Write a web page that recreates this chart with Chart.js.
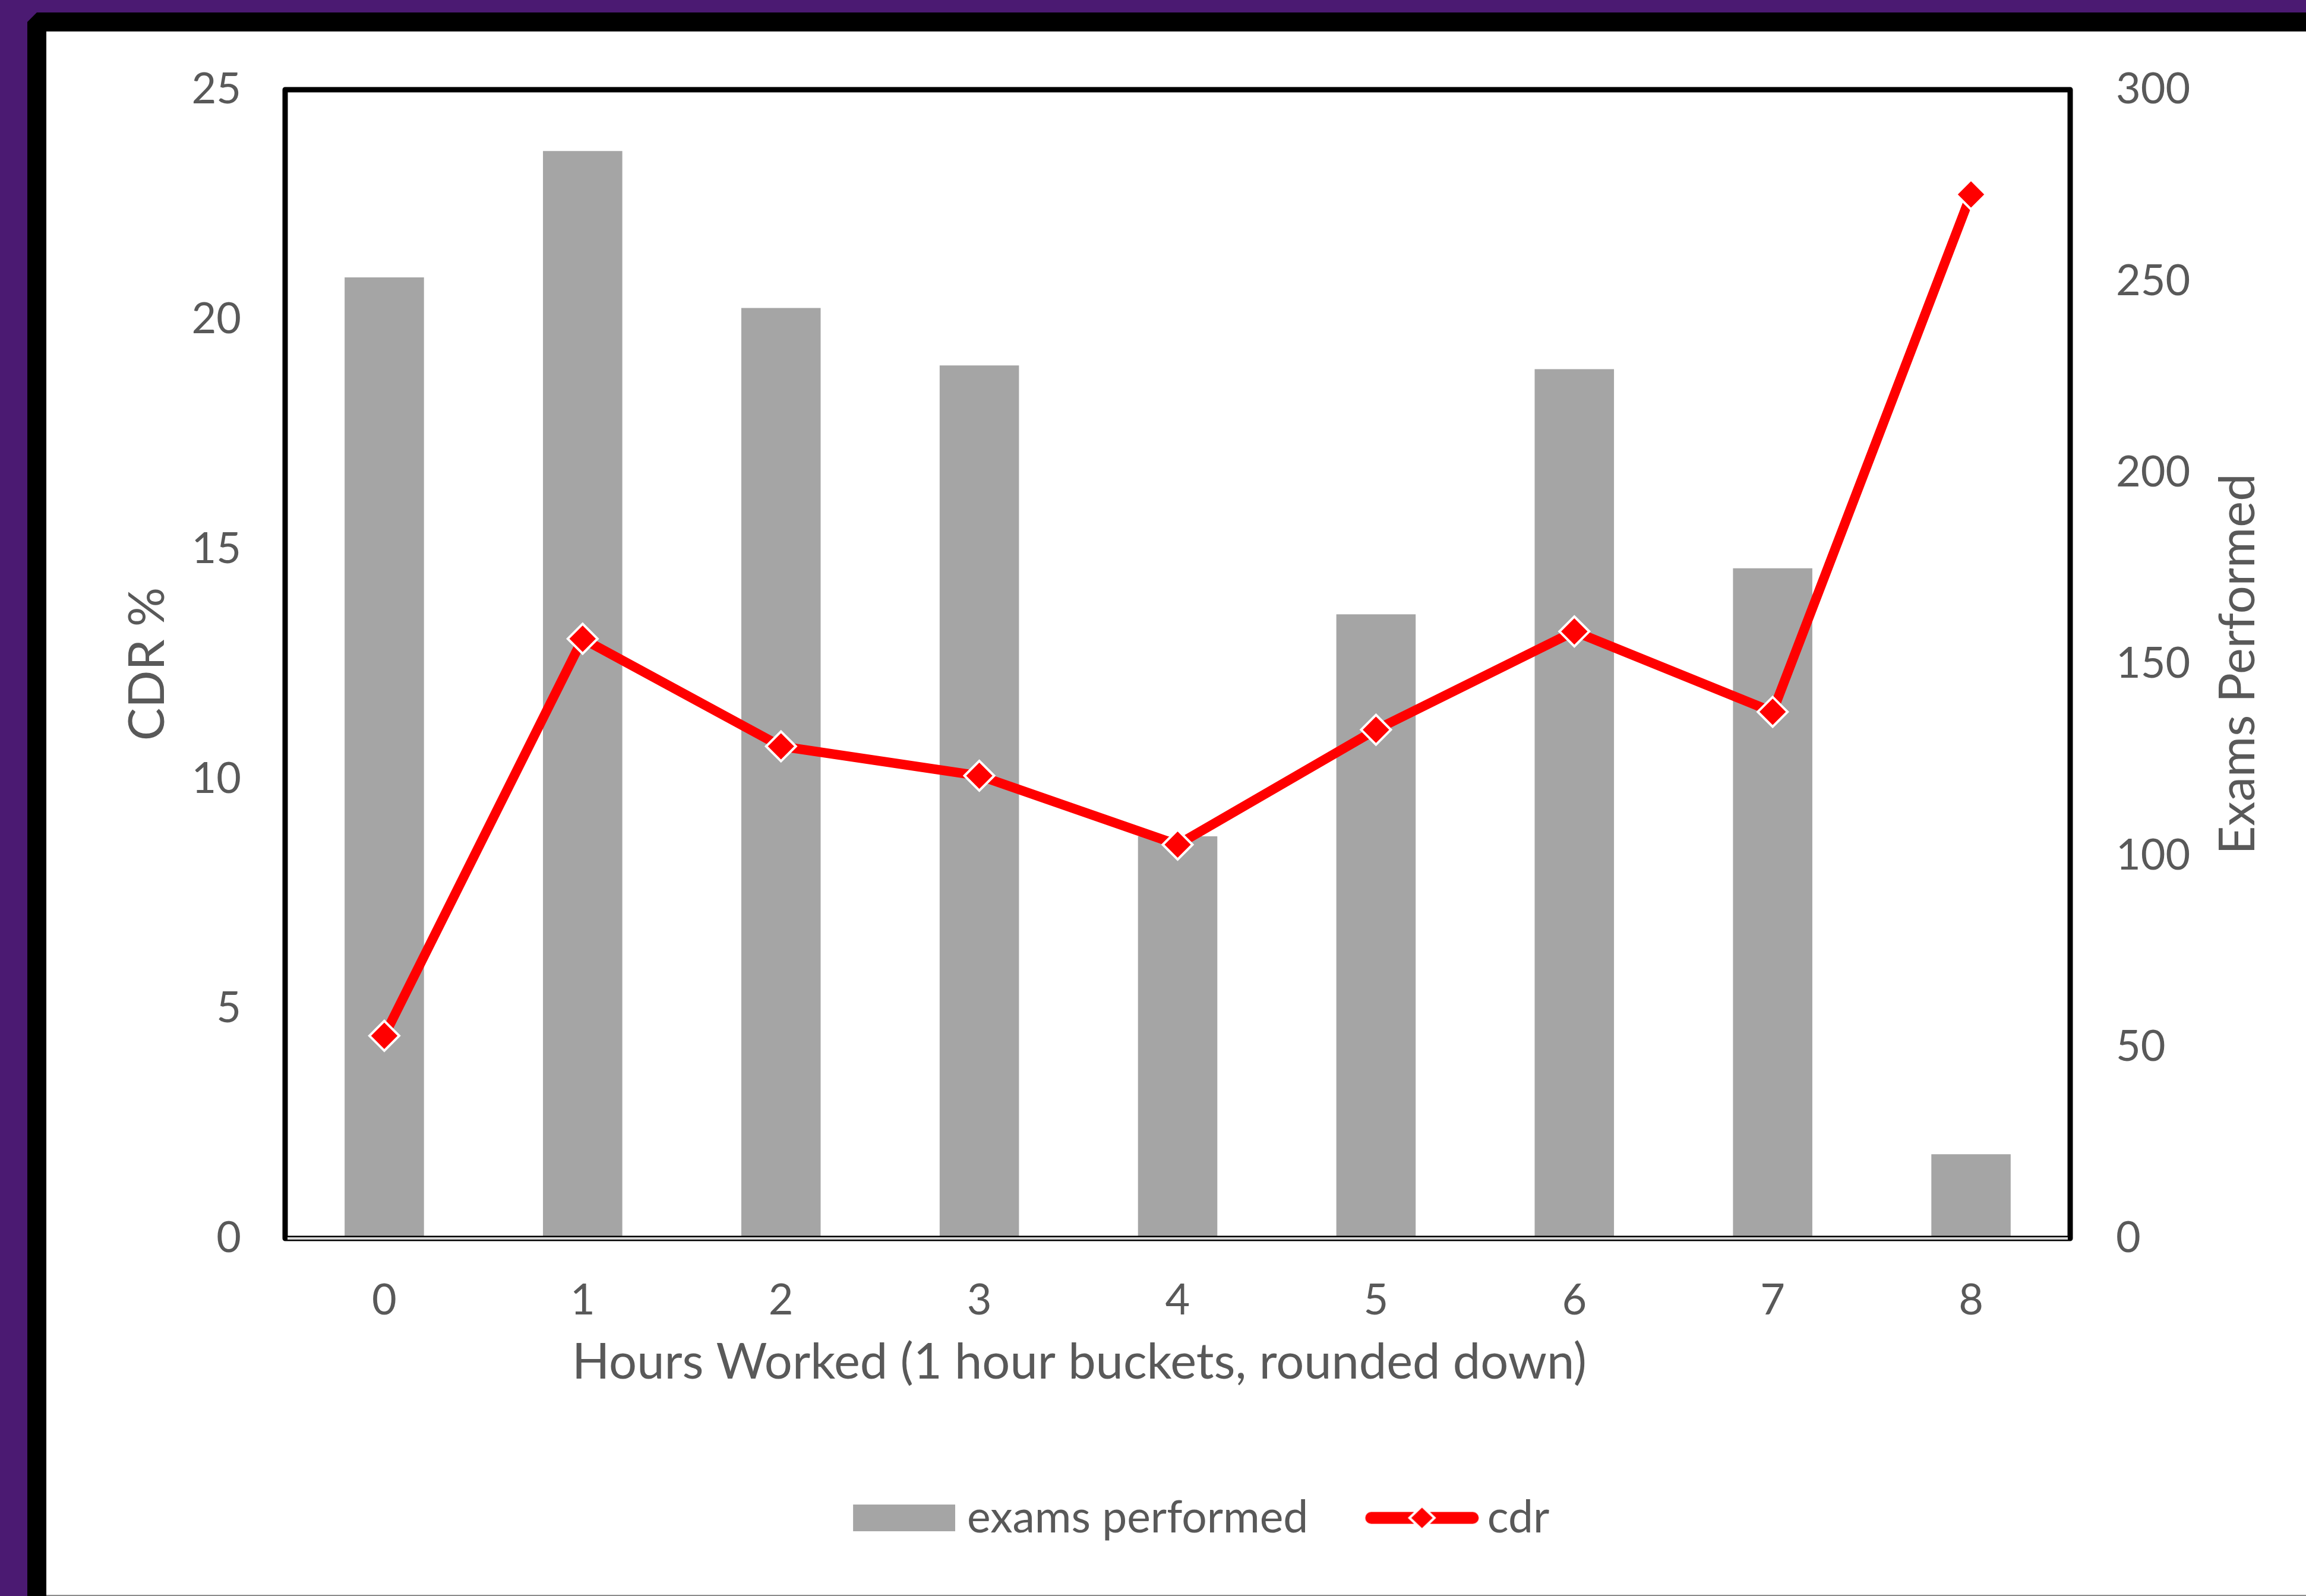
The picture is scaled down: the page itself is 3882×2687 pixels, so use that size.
<!DOCTYPE html>
<html><head><meta charset="utf-8">
<script src="https://cdn.jsdelivr.net/npm/chart.js@4.4.1/dist/chart.umd.min.js"></script>
<style>
html,body{margin:0;padding:0;width:3882px;height:2687px;overflow:hidden;background:#4B1A72;}
#frame{position:absolute;left:46px;top:21px;width:3836px;height:2666px;background:#000;clip-path:polygon(16px 0,100% 0,100% 100%,0 100%,0 16px);}
#bottomline{position:absolute;left:78px;top:2685px;width:3804px;height:2px;background:#8c8c8c;}
#c{position:absolute;left:78px;top:53px;background:#fff;}
</style></head>
<body><div id="frame"></div><div id="bottomline"></div>
<canvas id="c" width="3804" height="2632" style="width:3804px;height:2632px"></canvas>
<script>
const categories = ['0', '1', '2', '3', '4', '5', '6', '7', '8'];
const examsPerformed = [251, 284, 243, 228, 105, 163, 227, 175, 22];
const cdrPercent = [4.41, 13.05, 10.71, 10.07, 8.57, 11.07, 13.21, 11.46, 22.72];
const leftAxisTicks = [0, 5, 10, 15, 20, 25];
const rightAxisTicks = [0, 50, 100, 150, 200, 250, 300];
const seriesNames = ['exams performed', 'cdr'];
const axisTitles = { x: 'Hours Worked (1 hour buckets, rounded down)', left: 'CDR %', right: 'Exams Performed' };

const FONT = 'Lato, "Open Sans", sans-serif';
const TEXT = '#595959';
const BAR = '#A5A5A5';
const RED = '#FF0000';

// legend glyphs
function barGlyph() {
  const c = document.createElement('canvas'); c.width = 200; c.height = 45;
  const g = c.getContext('2d'); g.fillStyle = BAR; g.fillRect(28, 0, 172, 45); return c;
}
function lineGlyph() {
  const c = document.createElement('canvas'); c.width = 212; c.height = 56;
  const g = c.getContext('2d');
  g.strokeStyle = RED; g.lineWidth = 20; g.lineCap = 'round';
  g.beginPath(); g.moveTo(30.5, 28); g.lineTo(201.5, 28); g.stroke();
  g.beginPath(); g.moveTo(116, 8); g.lineTo(137, 28); g.lineTo(116, 48); g.lineTo(95, 28); g.closePath();
  g.fillStyle = RED; g.fill(); g.strokeStyle = '#fff'; g.lineWidth = 4; g.stroke();
  return c;
}
const glyphs = [barGlyph(), lineGlyph()];

const framePlugin = {
  id: 'frame',
  afterLayout(chart) {
    if (chart.legend) { chart.legend.left += 37; chart.legend.right += 37; }
  },
  afterDatasetsDraw(chart) {
    const { ctx, chartArea: a } = chart;
    ctx.save();
    ctx.strokeStyle = '#000'; ctx.lineWidth = 9; ctx.lineJoin = 'round';
    ctx.strokeRect(a.left, a.top, a.right - a.left, a.bottom - a.top);
    ctx.strokeStyle = '#D9D9D9'; ctx.lineWidth = 4;
    ctx.beginPath(); ctx.moveTo(a.left + 4, a.bottom); ctx.lineTo(a.right - 4, a.bottom); ctx.stroke();
    ctx.restore();
  },
  afterDraw(chart) {
    const { ctx, chartArea: a } = chart;
    ctx.save();
    ctx.font = '83px ' + FONT; ctx.fillStyle = TEXT;
    ctx.textAlign = 'center'; ctx.textBaseline = 'middle';
    ctx.fillText(axisTitles.x, 1739, a.bottom + 209);
    ctx.translate(3690, (a.top + a.bottom) / 2);
    ctx.rotate(-Math.PI / 2);
    ctx.fillText(axisTitles.right, 0, 0);
    ctx.restore();
  }
};

const hiddenTickGrid = (len) => ({ display: true, drawOnChartArea: false, drawTicks: true, tickLength: len, color: 'rgba(0,0,0,0)' });

new Chart(document.getElementById('c'), {
  data: {
    labels: categories,
    datasets: [
      { type: 'bar', label: seriesNames[0], data: examsPerformed, yAxisID: 'y1', backgroundColor: BAR,
        categoryPercentage: 0.4, barPercentage: 1, order: 2 },
      { type: 'line', label: seriesNames[1], data: cdrPercent, yAxisID: 'y', borderColor: RED, borderWidth: 16,
        backgroundColor: RED, pointStyle: 'rectRot', pointRadius: 25, pointBorderColor: '#fff', pointBorderWidth: 4,
        pointBackgroundColor: RED, tension: 0, order: 1, clip: false }
    ]
  },
  options: {
    responsive: false, animation: false, devicePixelRatio: 1,
    layout: { padding: { top: 98, left: 0, right: 0, bottom: 82 } },
    plugins: {
      tooltip: { enabled: false },
      legend: {
        position: 'bottom',
        labels: {
          usePointStyle: true, pointStyleWidth: 165, padding: 99,
          color: TEXT, font: { family: FONT, size: 75 },
          generateLabels: () => seriesNames.map((t, i) => ({ text: t, pointStyle: glyphs[i], datasetIndex: i, hidden: false, lineWidth: 0, fontColor: TEXT }))
        }
      }
    },
    scales: {
      x: {
        type: 'category', offset: true,
        grid: { display: false, drawTicks: false }, border: { display: false },
        ticks: { color: TEXT, font: { family: FONT, size: 72 }, padding: 62 },
        title: { display: false, text: axisTitles.x },
        afterFit: s => { s.height = 334; }
      },
      y: {
        position: 'left', min: leftAxisTicks[0], max: leftAxisTicks[leftAxisTicks.length - 1],
        afterBuildTicks: s => { s.ticks = leftAxisTicks.map(v => ({ value: v })); },
        grid: hiddenTickGrid(64), border: { display: false },
        ticks: { color: TEXT, font: { family: FONT, size: 72 }, padding: 10 },
        title: { display: true, text: axisTitles.left, color: TEXT, font: { family: FONT, size: 83 }, padding: { top: 121, bottom: 0 } },
        afterFit: s => { s.width = 402; }
      },
      y1: {
        position: 'right', min: rightAxisTicks[0], max: rightAxisTicks[rightAxisTicks.length - 1],
        afterBuildTicks: s => { s.ticks = rightAxisTicks.map(v => ({ value: v })); },
        grid: hiddenTickGrid(67), border: { display: false },
        ticks: { color: TEXT, font: { family: FONT, size: 72 }, padding: 10 },
        afterFit: s => { s.width = 397; }
      }
    }
  },
  plugins: [framePlugin]
});
</script>
</body></html>
